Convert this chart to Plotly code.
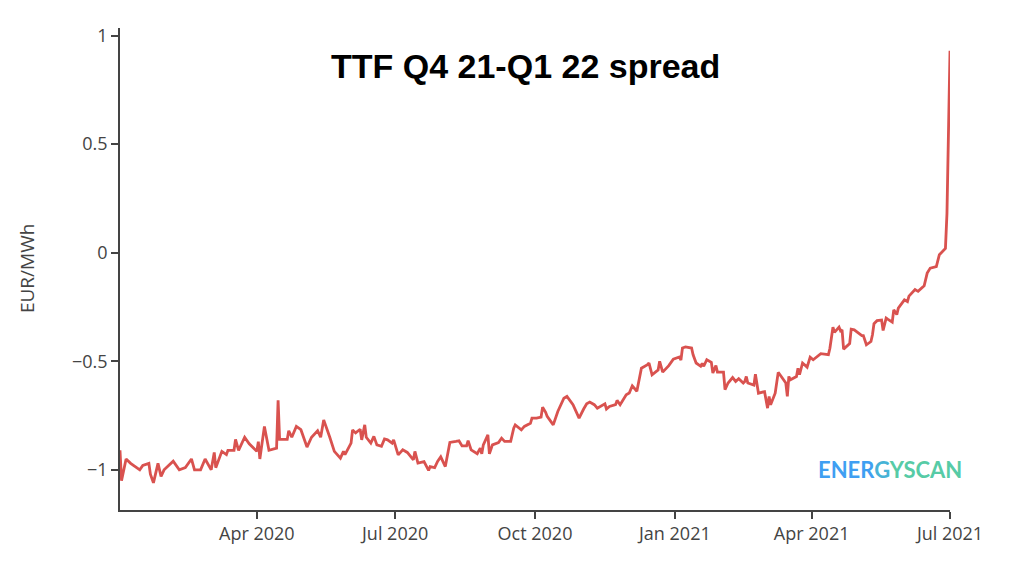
import plotly.graph_objects as go

dates = [
"2020-01-02","2020-01-03","2020-01-06","2020-01-09","2020-01-15","2020-01-17","2020-01-21","2020-01-22",
"2020-01-24","2020-01-27","2020-01-29","2020-01-31","2020-02-06","2020-02-10","2020-02-14","2020-02-18",
"2020-02-20","2020-02-24","2020-02-27","2020-03-02","2020-03-04","2020-03-05","2020-03-09","2020-03-12",
"2020-03-13","2020-03-17","2020-03-18","2020-03-20","2020-03-24","2020-03-27","2020-04-01","2020-04-02",
"2020-04-03","2020-04-06","2020-04-09","2020-04-14","2020-04-15","2020-04-16","2020-04-21","2020-04-22",
"2020-04-24","2020-04-27","2020-04-30","2020-05-04","2020-05-07","2020-05-11","2020-05-13","2020-05-15",
"2020-05-19","2020-05-21","2020-05-22","2020-05-26","2020-05-28","2020-05-29","2020-06-02","2020-06-03",
"2020-06-05","2020-06-08","2020-06-09","2020-06-11","2020-06-12","2020-06-15","2020-06-17","2020-06-19",
"2020-06-22","2020-06-24","2020-06-26","2020-06-29","2020-06-30","2020-07-03","2020-07-06","2020-07-09",
"2020-07-13","2020-07-14","2020-07-16","2020-07-20","2020-07-22","2020-07-23","2020-07-24","2020-07-27",
"2020-07-29","2020-07-31","2020-08-03","2020-08-06","2020-08-10","2020-08-12","2020-08-14","2020-08-17",
"2020-08-18","2020-08-20","2020-08-24","2020-08-26","2020-08-27","2020-08-28","2020-08-31","2020-09-01",
"2020-09-03","2020-09-07","2020-09-09","2020-09-11","2020-09-15","2020-09-17","2020-09-18","2020-09-22",
"2020-09-24","2020-09-28","2020-09-29","2020-10-02","2020-10-05","2020-10-06","2020-10-08","2020-10-09",
"2020-10-13","2020-10-15","2020-10-16","2020-10-20","2020-10-22","2020-10-26","2020-10-27","2020-10-30",
"2020-11-02","2020-11-04","2020-11-06","2020-11-09","2020-11-11","2020-11-13","2020-11-16","2020-11-17",
"2020-11-19","2020-11-23","2020-11-24","2020-11-26","2020-11-30","2020-12-02","2020-12-04","2020-12-07",
"2020-12-08","2020-12-10","2020-12-14","2020-12-15","2020-12-17","2020-12-21","2020-12-22","2020-12-24",
"2020-12-28","2020-12-31","2021-01-04","2021-01-05","2021-01-06","2021-01-08","2021-01-12","2021-01-13",
"2021-01-15","2021-01-18","2021-01-19","2021-01-20","2021-01-22","2021-01-25","2021-01-26","2021-01-28",
"2021-01-29","2021-02-02","2021-02-03","2021-02-05","2021-02-08","2021-02-10","2021-02-12","2021-02-15",
"2021-02-16","2021-02-17","2021-02-18","2021-02-22","2021-02-23","2021-02-25","2021-03-01","2021-03-03",
"2021-03-04","2021-03-05","2021-03-08","2021-03-10","2021-03-12","2021-03-15","2021-03-16","2021-03-17",
"2021-03-18","2021-03-22","2021-03-23","2021-03-24","2021-03-26","2021-03-29","2021-03-31","2021-04-02",
"2021-04-07","2021-04-12","2021-04-13","2021-04-15","2021-04-16","2021-04-19","2021-04-20","2021-04-21",
"2021-04-22","2021-04-26","2021-04-27","2021-04-29","2021-05-04","2021-05-05","2021-05-07","2021-05-10",
"2021-05-11","2021-05-12","2021-05-14","2021-05-17","2021-05-18","2021-05-20","2021-05-21","2021-05-24",
"2021-05-25","2021-05-27","2021-05-28","2021-06-01","2021-06-03","2021-06-04","2021-06-08","2021-06-10",
"2021-06-14","2021-06-16","2021-06-18","2021-06-22","2021-06-24","2021-06-28","2021-06-29","2021-06-30",
"2021-07-01"]

spread = [
-0.91,-1.05,-0.95,-0.97,-1.00,-0.98,-0.97,-1.02,
-1.06,-0.97,-1.03,-1.00,-0.96,-1.00,-0.99,-0.95,
-1.00,-1.00,-0.95,-1.00,-0.92,-0.99,-0.915,-0.93,
-0.91,-0.91,-0.86,-0.91,-0.85,-0.88,-0.915,-0.87,
-0.95,-0.80,-0.91,-0.90,-0.68,-0.86,-0.86,-0.82,
-0.85,-0.80,-0.815,-0.895,-0.85,-0.82,-0.85,-0.77,
-0.85,-0.90,-0.915,-0.946,-0.915,-0.93,-0.877,-0.816,
-0.83,-0.813,-0.862,-0.793,-0.85,-0.877,-0.846,-0.885,
-0.892,-0.858,-0.862,-0.877,-0.862,-0.931,-0.908,-0.92,
-0.954,-0.915,-0.969,-0.962,-0.985,-1.003,-0.985,-0.99,
-0.96,-0.94,-0.985,-0.874,-0.869,-0.866,-0.89,-0.89,
-0.866,-0.908,-0.926,-0.90,-0.926,-0.885,-0.839,-0.926,
-0.885,-0.874,-0.854,-0.869,-0.869,-0.808,-0.793,-0.816,
-0.80,-0.786,-0.762,-0.762,-0.757,-0.711,-0.735,-0.754,
-0.793,-0.754,-0.731,-0.670,-0.662,-0.70,-0.716,-0.762,
-0.72,-0.696,-0.688,-0.70,-0.716,-0.708,-0.696,-0.72,
-0.708,-0.70,-0.68,-0.70,-0.654,-0.646,-0.613,-0.638,
-0.601,-0.532,-0.516,-0.508,-0.562,-0.54,-0.50,-0.55,
-0.52,-0.49,-0.48,-0.495,-0.439,-0.434,-0.439,-0.47,
-0.508,-0.523,-0.51,-0.523,-0.493,-0.505,-0.554,-0.52,
-0.55,-0.55,-0.631,-0.60,-0.575,-0.593,-0.58,-0.60,
-0.593,-0.57,-0.60,-0.61,-0.56,-0.647,-0.64,-0.716,
-0.662,-0.70,-0.647,-0.551,-0.57,-0.60,-0.662,-0.57,
-0.585,-0.57,-0.532,-0.562,-0.508,-0.527,-0.481,-0.493,
-0.465,-0.47,-0.44,-0.343,-0.367,-0.343,-0.36,-0.355,
-0.444,-0.418,-0.352,-0.355,-0.382,-0.382,-0.424,-0.409,
-0.378,-0.327,-0.313,-0.31,-0.358,-0.301,-0.306,-0.32,
-0.263,-0.285,-0.255,-0.217,-0.225,-0.20,-0.17,-0.178,
-0.152,-0.094,-0.071,-0.064,-0.009,0.02,0.18,0.55,
0.93]

title_text = "TTF Q4 21-Q1 22 spread"
y_title = "EUR/MWh"
x_tickvals = ["2020-04-01","2020-07-01","2020-10-01","2021-01-01","2021-04-01","2021-07-01"]
x_ticktext = ["Apr 2020","Jul 2020","Oct 2020","Jan 2021","Apr 2021","Jul 2021"]
y_tickvals = [-1, -0.5, 0, 0.5, 1]

fig = go.Figure()
fig.add_trace(go.Scatter(x=dates, y=spread, mode="lines",
                         line=dict(color="#d9524f", width=2.8), showlegend=False))

axis_font = dict(family="Open Sans", size=18, color="#444")
fig.update_layout(
    width=1024, height=581,
    margin=dict(l=112, r=82, t=20, b=79),
    paper_bgcolor="white", plot_bgcolor="white",
    xaxis=dict(range=["2020-01-02", "2021-07-01"], tickvals=x_tickvals, ticktext=x_ticktext,
               showline=True, linecolor="#444", linewidth=1.5, ticks="outside", ticklen=7,
               tickcolor="#444", tickwidth=1.5, showgrid=False, zeroline=False, tickfont=axis_font),
    yaxis=dict(range=[-1.185, 1.035], tickvals=y_tickvals,
               showline=True, linecolor="#444", linewidth=1.5, ticks="outside", ticklen=7,
               tickcolor="#444", tickwidth=1.5, showgrid=False, zeroline=False, tickfont=axis_font),
    annotations=[
        dict(text=y_title, xref="paper", yref="paper", x=-0.112, y=0.5, textangle=-90,
             xanchor="center", yanchor="middle", showarrow=False,
             font=dict(family="Open Sans", size=19, color="#444")),
        dict(text="<b>" + title_text + "</b>", xref="paper", yref="paper", x=0.489, y=0.921,
             xanchor="center", yanchor="middle", showarrow=False,
             font=dict(family="Liberation Sans, Arial", size=34, color="#000")),
        dict(text="<b><span style='color:#3f9ff2'>ENER</span><span style='color:#47b3d6'>G</span>"
                  "<span style='color:#57cba6'>YSCAN</span></b>",
             xref="paper", yref="paper", x=0.928, y=0.085, xanchor="center", yanchor="middle",
             showarrow=False, font=dict(family="Lato, Open Sans", size=22)),
    ],
)

fig.write_html("out.html")
